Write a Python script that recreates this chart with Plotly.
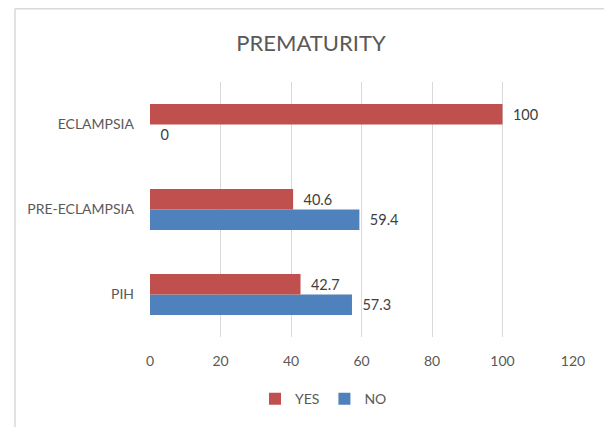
import plotly.graph_objects as go

categories = ["PIH", "PRE-ECLAMPSIA", "ECLAMPSIA"]
yes_values = [42.7, 40.6, 100]
no_values = [57.3, 59.4, 0]
x_ticks = [0, 20, 40, 60, 80, 100, 120]

FONT = "Lato, Open Sans, sans-serif"
W, H = 604, 427
L, R, T, B = 150, 31, 82, 87
pw = W - L - R
ph = H - T - B
PAD = "\u00a0\u00a0"

fig = go.Figure()
fig.add_trace(go.Bar(
    y=categories, x=no_values, name="NO", orientation="h",
    marker=dict(color="#4F81BD", line=dict(width=0)),
    text=[PAD + f"{v:g}" for v in no_values], textposition="outside",
    textfont=dict(size=14.5, color="#404040", family=FONT), cliponaxis=False,
))
fig.add_trace(go.Bar(
    y=categories, x=yes_values, name="YES", orientation="h",
    marker=dict(color="#C0504D", line=dict(width=0)),
    text=[PAD + f"{v:g}" for v in yes_values], textposition="outside",
    textfont=dict(size=14.5, color="#404040", family=FONT), cliponaxis=False,
))

# chart-area border (left and top edges visible)
fig.add_shape(type="line", xref="paper", yref="paper",
              x0=(15 - L) / pw, x1=(15 - L) / pw,
              y0=(T + ph - H - 5) / ph, y1=1 + (T - 8) / ph,
              line=dict(color="#D9D9D9", width=1.5))
fig.add_shape(type="line", xref="paper", yref="paper",
              x0=(15 - L) / pw, x1=(W + 5 - L) / pw,
              y0=1 + (T - 8) / ph, y1=1 + (T - 8) / ph,
              line=dict(color="#D9D9D9", width=1.5))

fig.update_layout(
    width=W, height=H,
    margin=dict(l=L, r=R, t=T, b=B),
    paper_bgcolor="white", plot_bgcolor="white",
    barmode="group", bargap=0.52, bargroupgap=0,
    title=dict(text="PREMATURITY", x=311 / W, xanchor="center", xref="container",
               y=1 - 43 / H, yanchor="middle", yref="container",
               font=dict(size=22, color="#595959", family=FONT)),
    font=dict(family=FONT, color="#595959", size=14),
    xaxis=dict(range=[0, 120], tickvals=x_ticks, showgrid=True,
               gridcolor="#D9D9D9", gridwidth=1, zeroline=False,
               showline=False, ticks="", tickfont=dict(size=14, color="#595959"),
               ticklabelstandoff=14),
    yaxis=dict(showgrid=False, zeroline=False, showline=False, ticks="",
               tickfont=dict(size=14, color="#595959"), ticklabelstandoff=15),
    legend=dict(orientation="h", traceorder="reversed",
                x=(255 - L) / pw, xanchor="left",
                y=-(403 - T - ph) / ph, yanchor="middle",
                font=dict(size=14, color="#595959"),
                itemwidth=30),
    showlegend=True,
)

fig.write_html("out.html", config={"displayModeBar": False},
               post_script="document.body.style.margin='0';document.body.style.padding='0';")
